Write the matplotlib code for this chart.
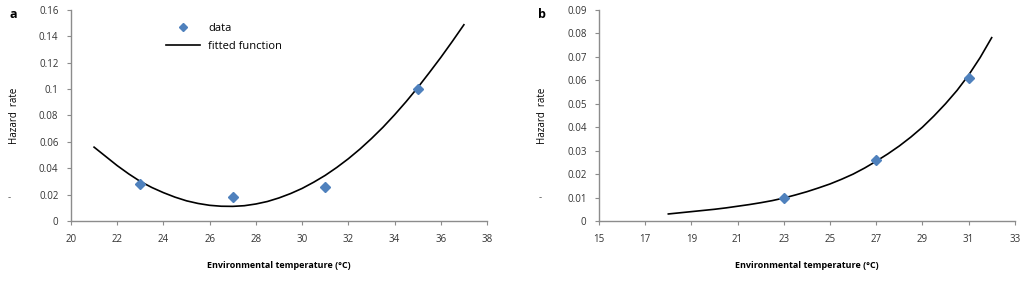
import matplotlib.pyplot as plt

# panel a data
temp_a = [23, 27, 31, 35]
hazard_a = [0.028, 0.018, 0.026, 0.100]
# fitted curve, every half degree
fit_x_a = [21, 21.5, 22, 22.5, 23, 23.5, 24, 24.5, 25, 25.5, 26, 26.5, 27, 27.5,
           28, 28.5, 29, 29.5, 30, 30.5, 31, 31.5, 32, 32.5, 33, 33.5, 34, 34.5,
           35, 35.5, 36, 36.5, 37]
fit_y_a = [0.056, 0.049, 0.042, 0.0357, 0.030, 0.0254, 0.0215, 0.0181, 0.0153,
           0.0133, 0.0119, 0.0112, 0.0111, 0.0116, 0.0129, 0.0148, 0.0175,
           0.0208, 0.0247, 0.0294, 0.0346, 0.0406, 0.0472, 0.0545, 0.0625,
           0.0711, 0.0805, 0.0905, 0.1011, 0.1124, 0.1240, 0.1362, 0.1488]

# panel b data
temp_b = [23, 27, 31]
hazard_b = [0.010, 0.026, 0.061]
fit_x_b = [18, 18.5, 19, 19.5, 20, 20.5, 21, 21.5, 22, 22.5, 23, 23.5, 24, 24.5,
           25, 25.5, 26, 26.5, 27, 27.5, 28, 28.5, 29, 29.5, 30, 30.5, 31, 31.5, 32]
fit_y_b = [0.0030, 0.0035, 0.0040, 0.0045, 0.0050, 0.0056, 0.0063, 0.0070,
           0.0078, 0.0087, 0.0098, 0.0111, 0.0125, 0.0141, 0.0158, 0.0178,
           0.0200, 0.0226, 0.0255, 0.0286, 0.0320, 0.0358, 0.0400, 0.0448,
           0.0500, 0.0557, 0.0622, 0.0697, 0.0782]

xticks_a = [20, 22, 24, 26, 28, 30, 32, 34, 36, 38]
yticks_a = [0, 0.02, 0.04, 0.06, 0.08, 0.1, 0.12, 0.14, 0.16]
xticks_b = [15, 17, 19, 21, 23, 25, 27, 29, 31, 33]
yticks_b = [0, 0.01, 0.02, 0.03, 0.04, 0.05, 0.06, 0.07, 0.08, 0.09]

plt.rcParams['font.family'] = ['Open Sans', 'DejaVu Sans']
blue = '#4F81BD'
grey = '#8c8c8c'

fig = plt.figure(figsize=(10.24, 2.81), dpi=100)
ax_a = fig.add_axes([0.0693, 0.2135, 0.4063, 0.751])
ax_b = fig.add_axes([0.585, 0.2135, 0.406, 0.751])


def style(ax, xticks, yticks):
    ax.set_xlim(xticks[0], xticks[-1])
    ax.set_ylim(yticks[0], yticks[-1])
    ax.set_xticks(xticks)
    ax.set_yticks(yticks)
    ax.set_xticklabels([f'{t:g}' for t in xticks])
    ax.set_yticklabels([f'{t:g}' for t in yticks])
    for s in ['top', 'right']:
        ax.spines[s].set_visible(False)
    for s in ['left', 'bottom']:
        ax.spines[s].set_color(grey)
        ax.spines[s].set_linewidth(1)
    ax.tick_params(direction='out', length=3, color=grey, labelsize=7,
                   labelcolor='#333333', pad=6)
    ax.set_xlabel('Environmental temperature (°C)', fontsize=6.5,
                  fontweight='bold', labelpad=12)
    ax.set_ylabel('Hazard  rate', fontsize=7, labelpad=14)


ax_a.plot(temp_a, hazard_a, linestyle='none', marker='D', ms=5.5, color=blue,
          label='data', clip_on=False, zorder=3)
ax_a.plot(fit_x_a, fit_y_a, color='black', lw=1.2, label='fitted function')
style(ax_a, xticks_a, yticks_a)
ax_a.legend(loc='upper left', bbox_to_anchor=(0.205, 0.985), frameon=False,
            fontsize=8, handlelength=3, markerscale=0.75, labelspacing=0.6)

ax_b.plot(temp_b, hazard_b, linestyle='none', marker='D', ms=5.5, color=blue,
          clip_on=False, zorder=3)
ax_b.plot(fit_x_b, fit_y_b, color='black', lw=1.2)
style(ax_b, xticks_b, yticks_b)

fig.text(10 / 1024, 1 - 14 / 281, 'a', fontsize=9, fontweight='bold', va='center')
fig.text(538 / 1024, 1 - 14 / 281, 'b', fontsize=9, fontweight='bold', va='center')
fig.text(8 / 1024, 1 - 198 / 281, '-', fontsize=7, color='#555555', va='center')
fig.text(539 / 1024, 1 - 198 / 281, '-', fontsize=7, color='#555555', va='center')

fig.savefig('out.png', dpi=100)
